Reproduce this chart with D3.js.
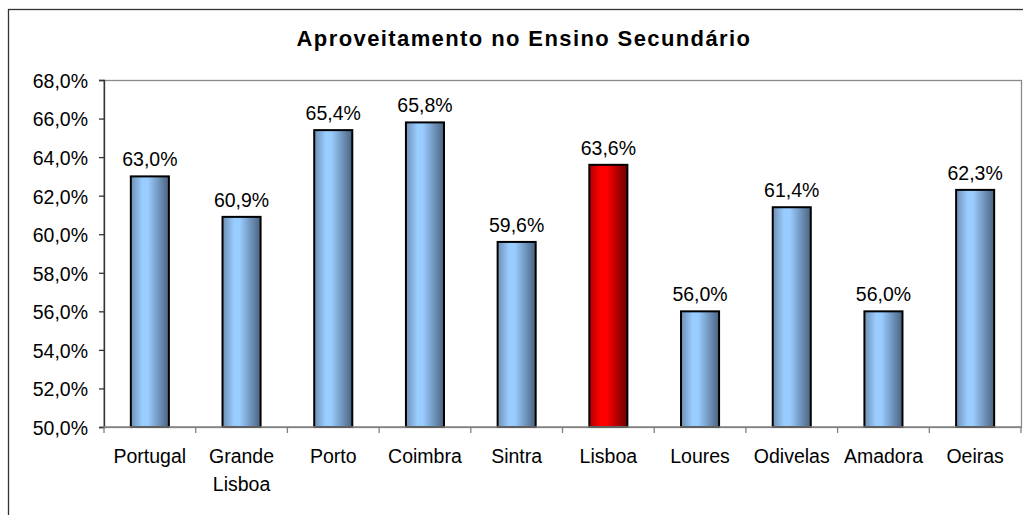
<!DOCTYPE html>
<html><head><meta charset="utf-8">
<script src="https://cdn.jsdelivr.net/npm/d3@7"></script>
<style>body{margin:0;background:#fff}svg{display:block;font-family:"Liberation Sans",Arial,sans-serif}</style>
</head><body>
<svg id="c" width="1023" height="515"></svg>
<script>
const title = "Aproveitamento no Ensino Secundário";
const categories = ["Portugal", "Grande\nLisboa", "Porto", "Coimbra", "Sintra", "Lisboa", "Loures", "Odivelas", "Amadora", "Oeiras"];
const values = [63.0, 60.9, 65.4, 65.8, 59.6, 63.6, 56.0, 61.4, 56.0, 62.3];
const highlight = ["Lisboa"];
const yTicks = [50, 52, 54, 56, 58, 60, 62, 64, 66, 68];

const svg = d3.select("#c");
const m = {left: 104, top: 80, right: 1021, bottom: 427};
const FS = 19.5;

// outer frame
svg.append("rect").attr("x", 8.5).attr("y", 9.5).attr("width", 1100).attr("height", 600)
  .attr("fill", "none").attr("stroke", "#333").attr("stroke-width", 1.3);

const defs = svg.append("defs");
function grad(id, stops) {
  const g = defs.append("linearGradient").attr("id", id).attr("x1", "0%").attr("x2", "100%").attr("y1", "0%").attr("y2", "0%");
  stops.forEach(s => g.append("stop").attr("offset", s[0]).attr("stop-color", s[1]));
}
grad("gb", [["0%", "#6f8fb3"], ["30%", "#99ccff"], ["45%", "#99ccff"], ["100%", "#4a6280"]]);
grad("gr", [["0%", "#b00000"], ["30%", "#ff0000"], ["45%", "#ff0000"], ["100%", "#6a0000"]]);

const x = d3.scaleBand().domain(categories).range([m.left, m.right]).paddingInner(0.585).paddingOuter(0.2925);
const y = d3.scaleLinear().domain([50, 68]).range([m.bottom, m.top]);

// plot area border
svg.append("rect").attr("x", m.left).attr("y", m.top + 0.5).attr("width", m.right - m.left + 0.5).attr("height", m.bottom - m.top)
  .attr("fill", "none").attr("stroke", "#8a8a8a").attr("stroke-width", 1.3);

// title
svg.append("text").attr("x", 524).attr("y", 46).attr("text-anchor", "middle")
  .attr("font-size", 22).attr("font-weight", "bold").attr("letter-spacing", 1.4).attr("fill", "#000").text(title);

// bars
svg.selectAll("rect.bar").data(values).enter().append("rect").attr("class", "bar")
  .attr("x", (d, i) => x(categories[i]))
  .attr("y", d => y(d))
  .attr("width", x.bandwidth())
  .attr("height", d => y(50) - y(d))
  .attr("fill", (d, i) => highlight.includes(categories[i]) ? "url(#gr)" : "url(#gb)")
  .attr("stroke", "#000").attr("stroke-width", 2);

// value labels
svg.selectAll("text.val").data(values).enter().append("text").attr("class", "val")
  .attr("x", (d, i) => x(categories[i]) + x.bandwidth() / 2)
  .attr("y", d => y(d) - 10)
  .attr("text-anchor", "middle").attr("font-size", FS).attr("fill", "#000")
  .text(d => d.toFixed(1).replace(".", ",") + "%");

// y axis
const fmt = d => d.toFixed(1).replace(".", ",") + "%";
const ya = svg.append("g").attr("transform", `translate(${m.left},0)`)
  .call(d3.axisLeft(y).tickValues(yTicks).tickFormat(fmt).tickSize(5).tickPadding(11));
ya.select(".domain").attr("stroke", "#333").attr("stroke-width", 1.3);
ya.selectAll(".tick line").attr("stroke", "#333").attr("stroke-width", 1.3);
ya.selectAll("text").attr("font-size", FS).attr("fill", "#000").attr("font-family", "Liberation Sans, Arial, sans-serif").attr("dy", "0.38em");

// x axis
const xa = svg.append("g").attr("transform", `translate(0,${m.bottom})`);
xa.append("line").attr("x1", m.left).attr("x2", m.right).attr("stroke", "#808080").attr("stroke-width", 1.3);
xa.selectAll("line.t").data(d3.range(categories.length + 1)).enter().append("line").attr("class", "t")
  .attr("x1", i => m.left + i * (m.right - m.left) / categories.length)
  .attr("x2", i => m.left + i * (m.right - m.left) / categories.length)
  .attr("y1", 0).attr("y2", 6).attr("stroke", "#808080").attr("stroke-width", 1.3);
const xl = xa.selectAll("text.xl").data(categories).enter().append("text").attr("class", "xl")
  .attr("text-anchor", "middle").attr("font-size", FS).attr("fill", "#000");
xl.each(function (c) {
  const t = d3.select(this);
  c.split("\n").forEach((line, k) => {
    t.append("tspan").attr("x", x(c) + x.bandwidth() / 2).attr("y", 36 + k * 28).text(line);
  });
});
</script>
</body></html>
